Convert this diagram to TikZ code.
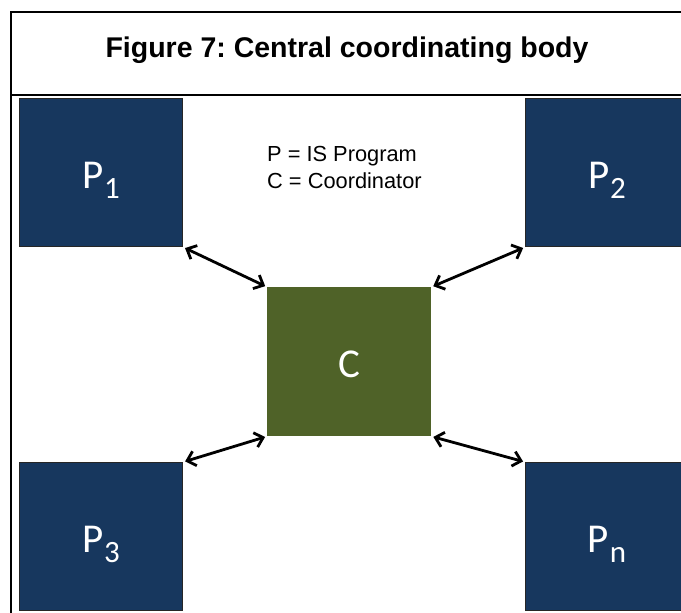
\documentclass[tikz,border=0pt]{standalone}
\usepackage{fontspec}
\setmainfont{Liberation Sans}
\newfontfamily\boxfont{Carlito}
\usetikzlibrary{arrows.meta}
\definecolor{navy}{HTML}{17375E}
\definecolor{olive}{HTML}{4F6228}
\tikzset{
  pbox/.style={draw=black!85, line width=1.2pt, fill=navy, minimum width=163pt, minimum height=148pt, inner sep=0pt, anchor=north west},
  cbox/.style={fill=olive, minimum width=164pt, minimum height=149pt, inner sep=0pt, anchor=north west},
  boxlabel/.style={text=white, font=\boxfont\fontsize{41}{41}\selectfont},
  link/.style={line width=2.8pt, {Straight Barb[length=8pt,width=15pt,line width=2.8pt]}-{Straight Barb[length=8pt,width=15pt,line width=2.8pt]}, shorten <=2pt, shorten >=2pt},
  frame/.style={line width=2.2pt, draw=black}
}
\newcommand{\psub}[1]{P\kern1pt\raisebox{-10pt}{\fontsize{31}{31}\selectfont #1}}
\frenchspacing
\begin{document}
\begin{tikzpicture}[x=1pt,y=-1pt]
\useasboundingbox (0,0) rectangle (681,613);
\clip (0,0) rectangle (681,613);
\fill[white] (0,0) rectangle (681,613);
% frame
\draw[frame] (11,613) -- (11,12) -- (700,12);
\draw[frame] (11,95) -- (700,95);
\node[font=\bfseries\fontsize{28.5}{28.5}\selectfont, anchor=base] (title) at (347,57) {Figure 7: Central coordinating body};
% legend
\node[anchor=base west, font=\fontsize{21.8}{21.8}\selectfont, inner sep=0pt] (leg1) at (267,161) {P = IS Program};
\node[anchor=base west, font=\fontsize{21.8}{21.8}\selectfont, inner sep=0pt] (leg2) at (267,188) {C = Coordinator};
% boxes
\node[pbox] (p1) at (19,98) {};
\node[pbox] (p2) at (525,98) {};
\node[pbox] (p3) at (19,462) {};
\node[pbox] (pn) at (525,462) {};
\node[cbox] (c) at (267,287) {};
% labels
\node[boxlabel, anchor=base] (p1l) at (101,188) {\psub{1}};
\node[boxlabel, anchor=base] (p2l) at (607,188) {\psub{2}};
\node[boxlabel, anchor=base] (p3l) at (101,552) {\psub{3}};
\node[boxlabel, anchor=base] (pnl) at (607,552) {\psub{n}};
\node[boxlabel, anchor=base] (cl) at (349,377) {C};
% connectors
\draw[link] (p1.south east) -- (c.north west);
\draw[link] (p2.south west) -- (c.north east);
\draw[link] (p3.north east) -- (c.south west);
\draw[link] (pn.north west) -- (c.south east);
\end{tikzpicture}
\end{document}
